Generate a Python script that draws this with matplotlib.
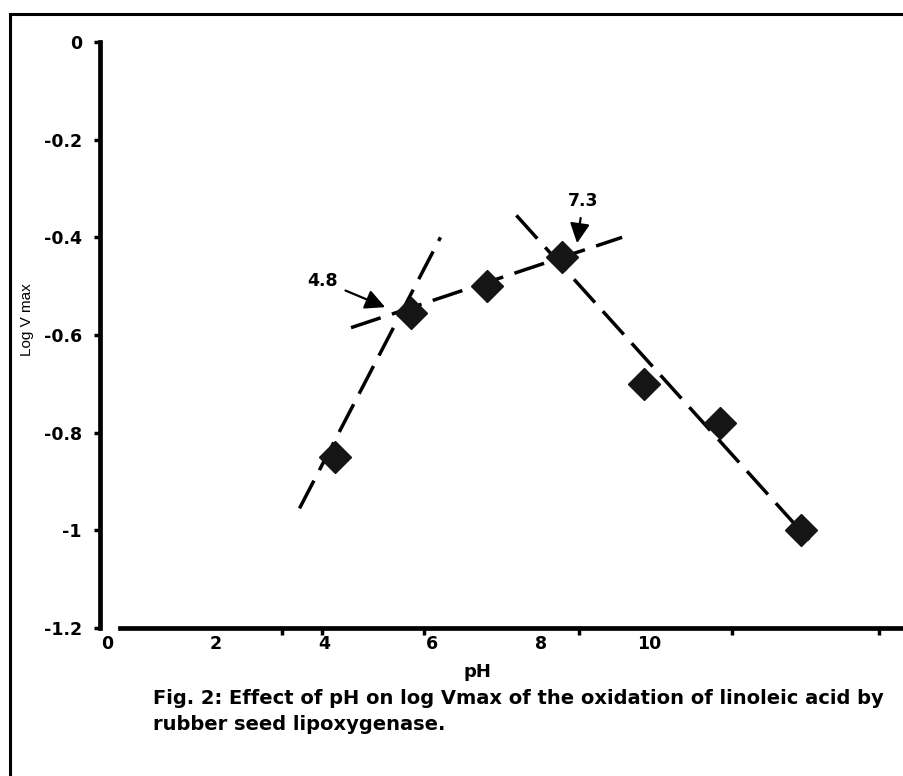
import matplotlib.pyplot as plt
from matplotlib.patches import Rectangle

# data
ph = [4.2, 5.6, 7.0, 8.4, 9.9, 11.3, 12.8]
log_vmax = [-0.85, -0.555, -0.50, -0.44, -0.70, -0.78, -1.0]

# dashed trend lines (end points)
acid_x = [3.55, 6.15]
acid_y = [-0.955, -0.40]
mid_x = [4.5, 9.5]
mid_y = [-0.585, -0.40]
base_x = [7.55, 12.95]
base_y = [-0.355, -1.02]

xticks = [0, 2, 4, 6, 8, 10]
yticks = [0, -0.2, -0.4, -0.6, -0.8, -1.0, -1.2]
ylabels = ["0", "-0.2", "-0.4", "-0.6", "-0.8", "-1", "-1.2"]
odd_ticks = [3.23, 3.96, 5.85, 8.71, 11.53, 14.24]

plt.rcParams['font.family'] = ['DejaVu Sans']
plt.rcParams['font.weight'] = 'bold'

fig = plt.figure(figsize=(9.04, 7.76), dpi=100)
W, H = 904, 776
ax = fig.add_axes([100 / W, 1 - 628 / H, 804 / W, 586 / H])

dash = (0, (9.0, 3.4))
ax.plot(acid_x, acid_y, color='black', lw=2.5, linestyle=dash)
ax.plot(mid_x, mid_y, color='black', lw=2.5, linestyle=dash)
ax.plot(base_x, base_y, color='black', lw=2.5, linestyle=dash)
ax.plot(ph, log_vmax, linestyle='none', marker='D', markersize=16.5,
        color='#151515', zorder=3)

arrow = dict(arrowstyle='-|>', mutation_scale=30, lw=1.6, color='black',
             shrinkA=4, shrinkB=0)
ax.annotate("4.8", xy=(5.13, -0.543), xytext=(3.97, -0.489),
            ha='center', va='center', fontsize=12.5, fontweight='bold',
            arrowprops=arrow)
ax.annotate("7.3", xy=(8.67, -0.412), xytext=(8.78, -0.325),
            ha='center', va='center', fontsize=12.5, fontweight='bold',
            arrowprops=arrow)

ax.set_xlim(-0.13, 14.7)
ax.set_ylim(-1.2, 0)

for s in ['top', 'right']:
    ax.spines[s].set_visible(False)
ax.spines['left'].set_linewidth(3.4)
ax.spines['bottom'].set_linewidth(3.4)
ax.spines['bottom'].set_bounds(0.24, 14.7)

ax.set_xticks(xticks)
ax.set_xticklabels([str(t) for t in xticks], fontsize=12.5, fontweight='bold')
ax.tick_params(axis='x', which='major', length=0, pad=5)
ax.set_xticks(odd_ticks, minor=True)
ax.tick_params(axis='x', which='minor', length=5, width=2.5, direction='out')

ax.set_yticks(yticks)
ax.set_yticklabels(ylabels, fontsize=12.5, fontweight='bold')
ax.tick_params(axis='y', length=4, width=2.5, pad=9)

ax.set_xlabel("pH", fontsize=13, fontweight='bold')
ax.xaxis.set_label_coords(0.47, -0.06)

fig.text(27 / W, 1 - 320 / H, "Log V max", rotation=90, fontsize=11,
         fontweight='normal', family='Liberation Sans', ha='center', va='center')

fig.text(153 / W, 1 - 699 / H,
         "Fig. 2: Effect of pH on log Vmax of the oxidation of linoleic acid by",
         fontsize=14, fontweight='bold', ha='left', va='center')
fig.text(153 / W, 1 - 724 / H, "rubber seed lipoxygenase.",
         fontsize=14, fontweight='bold', ha='left', va='center')

# outer frame of the scanned figure
fig.patches.append(Rectangle((10 / W, -0.1), 1.0, 1 - 14 / H + 0.1,
                             transform=fig.transFigure, fill=False,
                             lw=2.2, edgecolor='black'))

fig.savefig("out.png", dpi=100)
